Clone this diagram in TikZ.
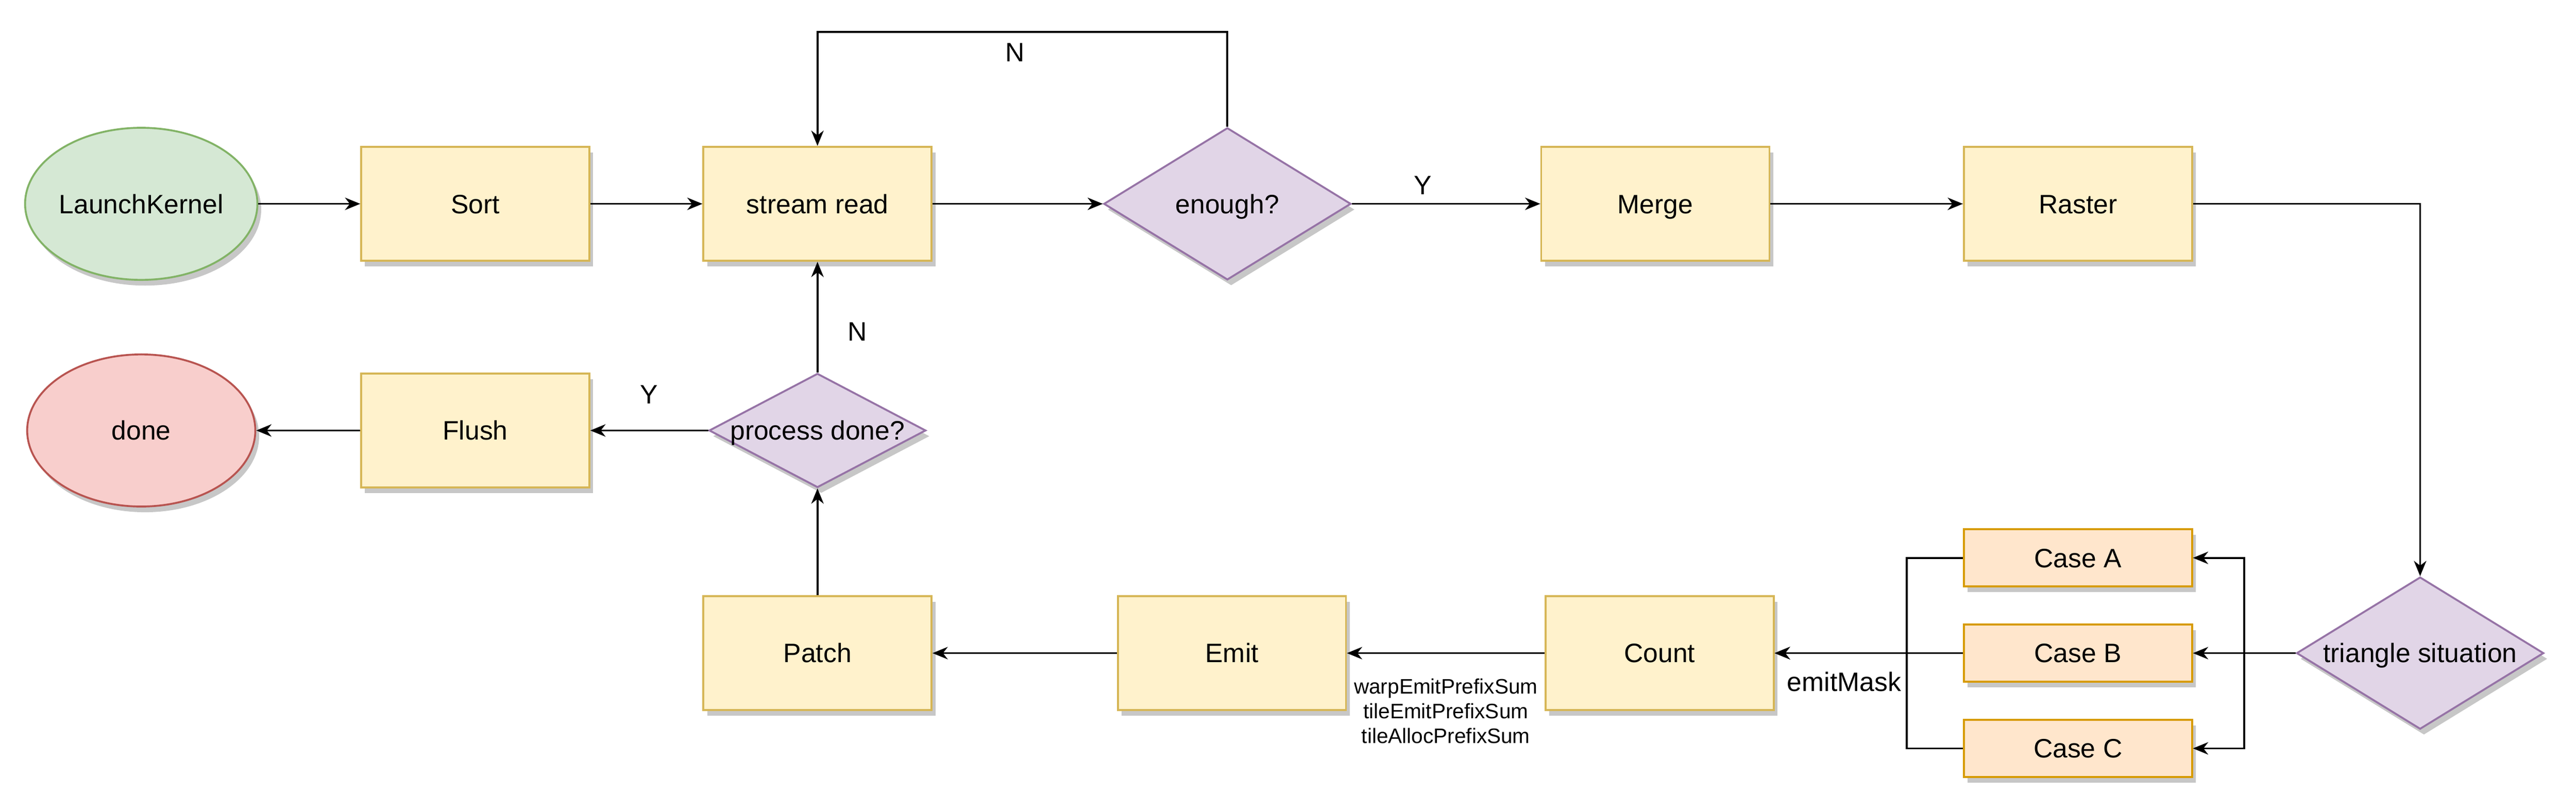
\documentclass[tikz,border=0pt]{standalone}
\usepackage{fontspec}
\setmainfont{Liberation Sans}
\usetikzlibrary{shapes.geometric,arrows.meta,shadows}
\definecolor{yfill}{HTML}{FFF2CC}
\definecolor{ydraw}{HTML}{D6B656}
\definecolor{gfill}{HTML}{D5E8D4}
\definecolor{gdraw}{HTML}{82B366}
\definecolor{rfill}{HTML}{F8CECC}
\definecolor{rdraw}{HTML}{B85450}
\definecolor{pfill}{HTML}{E1D5E7}
\definecolor{pdraw}{HTML}{9673A6}
\definecolor{ofill}{HTML}{FFE6CC}
\definecolor{odraw}{HTML}{D79B00}
\tikzset{
  shad/.style={drop shadow={shadow xshift=2pt,shadow yshift=-3pt,opacity=0.22,fill=black}},
  base/.style={line width=1pt,inner sep=0pt,text height=10pt,text depth=0pt,shad},
  proc/.style={base,rectangle,draw=ydraw,fill=yfill,minimum width=120pt,minimum height=60pt},
  casebox/.style={base,rectangle,draw=odraw,fill=ofill,minimum width=120pt,minimum height=30pt},
  startnode/.style={base,ellipse,draw=gdraw,fill=gfill,minimum width=120pt,minimum height=80pt},
  endnode/.style={base,ellipse,draw=rdraw,fill=rfill,minimum width=120pt,minimum height=80pt},
  decision/.style={base,diamond,draw=pdraw,fill=pfill},
  conn/.style={draw=black,line width=1pt,-{Stealth[length=8pt,width=6.5pt,inset=2.5pt]}},
  lbl/.style={inner sep=0pt}
}
\begin{document}
\begin{tikzpicture}[x=1pt,y=-1pt,font=\fontsize{14}{16}\selectfont]
\useasboundingbox (0,0) rectangle (1355,426);
% nodes
\node[startnode] (lk) at (74.3,107.2) {LaunchKernel};
\node[proc] (so) at (250,107.2) {Sort};
\node[proc] (sr) at (430,107.2) {stream read};
\node[decision,minimum width=130pt,minimum height=80pt,shape aspect=1.625] (en) at (645.6,107.2) {enough?};
\node[proc] (me) at (870.7,107.2) {Merge};
\node[proc] (ra) at (1093,107.2) {Raster};
\node[decision,minimum width=130pt,minimum height=80pt,shape aspect=1.625] (tri) at (1273,343.5) {triangle situation};
\node[casebox] (ca) at (1093,293.4) {Case A};
\node[casebox] (cb) at (1093,343.5) {Case B};
\node[casebox] (cc) at (1093,393.6) {Case C};
\node[proc] (co) at (873,343.5) {Count};
\node[proc] (em) at (648,343.5) {Emit};
\node[proc] (pa) at (430,343.5) {Patch};
\node[decision,minimum width=114pt,minimum height=60pt,shape aspect=1.9] (pd) at (430,226.4) {process done?};
\node[proc] (fl) at (250,226.4) {Flush};
\node[endnode] (dn) at (74.3,226.4) {done};
% bus coordinates
\coordinate (rb) at (1180.5,343.5);
\coordinate (lb) at (1003,343.5);
% connectors
\draw[conn] (lk) -- (so);
\draw[conn] (so) -- (sr);
\draw[conn] (sr) -- (en);
\draw[conn] (en) -- (me);
\draw[conn] (en.north) -- ++(0,-49.9) -| (sr.north);
\draw[conn] (me) -- (ra);
\draw[conn] (ra.east) -| (tri.north);
\draw[conn] (tri.west) -- (cb.east);
\draw[conn] (tri.west) -- (rb) |- (ca.east);
\draw[conn] (tri.west) -- (rb) |- (cc.east);
\draw[conn] (ca.west) -| (lb) -- (co.east);
\draw[conn] (cb.west) -- (co.east);
\draw[conn] (cc.west) -| (lb) -- (co.east);
\draw[conn] (co) -- (em);
\draw[conn] (em) -- (pa);
\draw[conn] (pa) -- (pd);
\draw[conn] (pd) -- (sr);
\draw[conn] (pd) -- (fl);
\draw[conn] (fl) -- (dn);
% labels
\node[lbl] (ly1) at (748.3,97.6) {Y};
\node[lbl] (ln1) at (534,27.6) {N};
\node[lbl] (ln2) at (451,174.5) {N};
\node[lbl] (ly2) at (341.3,207.4) {Y};
\node[lbl] (lm) at (970,358.6) {emitMask};
\node[lbl,align=center,font=\fontsize{11}{13}\selectfont] (lp) at (760.5,374) {warpEmitPrefixSum\\tileEmitPrefixSum\\tileAllocPrefixSum};
\end{tikzpicture}
\end{document}
